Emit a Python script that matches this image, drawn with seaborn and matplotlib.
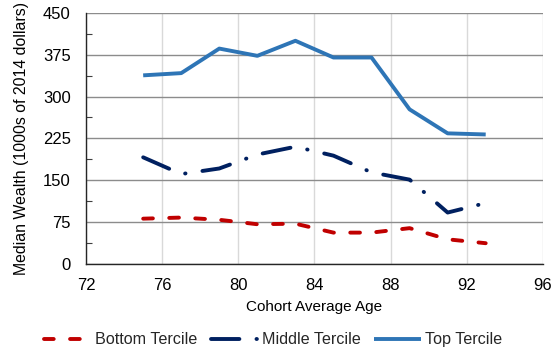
import matplotlib
matplotlib.use("Agg")
import matplotlib.pyplot as plt
from matplotlib.ticker import MultipleLocator
import seaborn as sns
import pandas as pd

# Cohort average ages and median wealth by tercile (1000s of 2014 dollars)
ages = [75, 77, 79, 81, 83, 85, 87, 89, 91, 93]
bottom_tercile = [81, 83, 79, 71, 72, 56, 56, 64, 44, 37]
middle_tercile = [191, 161, 171, 196, 210, 194, 164, 151, 92, 109]
top_tercile = [338, 342, 386, 373, 400, 370, 370, 277, 234, 232]

series_names = ["Bottom Tercile", "Middle Tercile", "Top Tercile"]
colors = ["#C00000", "#002060", "#2E75B6"]
styles = [(0, (2.5, 4.2)), (0, (7.3, 4.4, 0.1, 4.4)), "-"]

x_ticks = [72, 76, 80, 84, 88, 92, 96]
y_ticks = [0, 75, 150, 225, 300, 375, 450]

sns.set_theme(style="white")
plt.rcParams["font.family"] = ["Liberation Sans", "DejaVu Sans"]

fig = plt.figure(figsize=(5.59, 3.58), dpi=100)
ax = fig.add_axes([0.154, 0.263, 0.817, 0.701])

df = pd.DataFrame({"age": ages, "Bottom Tercile": bottom_tercile,
                   "Middle Tercile": middle_tercile, "Top Tercile": top_tercile})

for name, col, ls in zip(series_names, colors, styles):
    sns.lineplot(data=df, x="age", y=name, ax=ax, color=col, linestyle=ls,
                 linewidth=2.8, label=name, dash_capstyle="round",
                 solid_capstyle="butt")

ax.set_xlim(72, 96)
ax.set_ylim(0, 450)
ax.set_xticks(x_ticks)
ax.set_yticks(y_ticks)
ax.yaxis.set_minor_locator(MultipleLocator(37.5))
ax.tick_params(axis="y", which="major", labelsize=12, length=0, pad=11,
               colors="black")
ax.tick_params(axis="x", which="major", labelsize=12, length=0, pad=10,
               colors="black")
ax.tick_params(axis="y", which="minor", direction="in", length=4, width=0.8,
               color="#404040", left=True)

ax.grid(True, axis="y", which="major", color="#8C8C8C", linewidth=1.0)
ax.grid(True, axis="x", which="major", color="#D9D9D9", linewidth=1.0)
ax.set_axisbelow(True)

for side in ["top", "right"]:
    ax.spines[side].set_visible(False)
for side in ["left", "bottom"]:
    ax.spines[side].set_color("#262626")
    ax.spines[side].set_linewidth(1.0)

ax.set_xlabel("Cohort Average Age", fontsize=11, color="black", labelpad=5)
ax.set_ylabel("Median Wealth (1000s of 2014 dollars)", fontsize=11.4,
              color="black", labelpad=10)

ax.legend(loc="upper center", bbox_to_anchor=(0.41, -0.215), ncol=3,
          frameon=False, fontsize=11.6, handlelength=2.9, handletextpad=0.25,
          columnspacing=0.85)

fig.savefig("out.png", dpi=100)
